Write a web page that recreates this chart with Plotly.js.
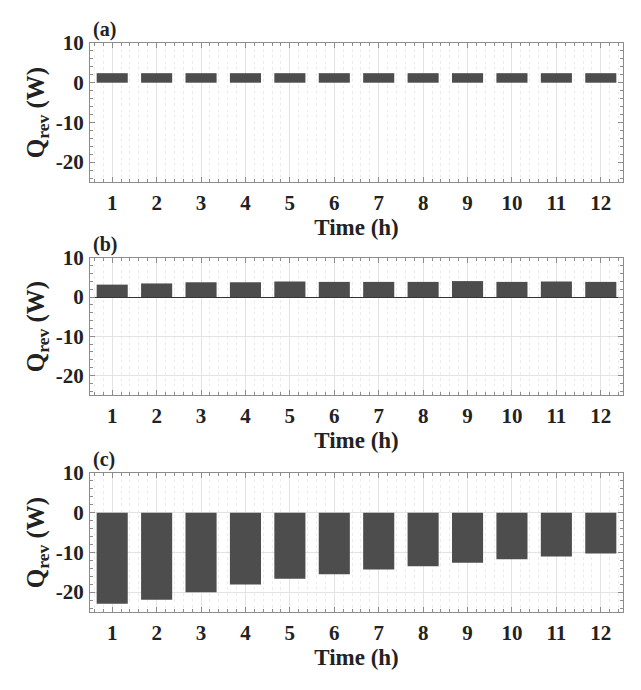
<!DOCTYPE html>
<html>
<head>
<meta charset="utf-8">
<script src="https://cdn.plot.ly/plotly-3.0.1.min.js"></script>
<style>
  html, body { margin: 0; padding: 0; background: #fff; }
  #chart { width: 641px; height: 690px; }
</style>
</head>
<body>
<div id="chart"></div>
<script>
// Q_rev per hour for the three cases
const hours = [1, 2, 3, 4, 5, 6, 7, 8, 9, 10, 11, 12];
const qrevA = [2.4, 2.4, 2.4, 2.4, 2.4, 2.4, 2.4, 2.4, 2.4, 2.4, 2.4, 2.4];
const qrevB = [3.2, 3.5, 3.8, 3.8, 4.0, 3.9, 3.9, 3.9, 4.1, 3.9, 4.0, 3.9];
const qrevC = [-22.9, -21.9, -20.0, -18.1, -16.6, -15.5, -14.3, -13.5, -12.6, -11.7, -11.0, -10.3];
const yTicks = [-20, -10, 0, 10];
const yTickText = ['-20', '-10', '0', '10'];
const panelLabels = ['(a)', '(b)', '(c)'];

const FONT = 'Liberation Serif, Times New Roman, serif';
const BAR_COLOR = '#4d4d4d';
const AXIS_COLOR = '#8c8c8c';
const GRID = '#e3e3e3';

// plot areas, pixel rows out of 690
const H = 690;
const domains = [[43, 182], [258, 395], [473, 612]].map(([t, b]) => [1 - b / H, 1 - t / H]);

function xAxis(anchor) {
  return {
    anchor: anchor,
    range: [0.5, 12.5],
    tickvals: hours,
    ticks: 'inside',
    ticklen: 5,
    tickcolor: AXIS_COLOR,
    showline: true,
    linecolor: AXIS_COLOR,
    linewidth: 1,
    mirror: 'allticks',
    showgrid: true,
    gridcolor: GRID,
    zeroline: false,
    tickfont: { family: FONT, size: 21, weight: 'bold', color: '#222' },
    ticklabelstandoff: 2,
    title: { text: 'Time (h)', font: { family: FONT, size: 23, weight: 'bold', color: '#222' }, standoff: 0 },
    minor: { dtick: 0.2, ticks: 'inside', ticklen: 3, tickcolor: AXIS_COLOR, showgrid: true, gridcolor: '#ececec', griddash: 'dot' },
  };
}

function yAxis(anchor, domain, grid, zero) {
  return {
    anchor: anchor,
    domain: domain,
    range: [-25, 10],
    tickvals: yTicks,
    ticktext: yTickText,
    ticks: 'inside',
    ticklen: 5,
    tickcolor: AXIS_COLOR,
    showline: true,
    linecolor: AXIS_COLOR,
    linewidth: 1,
    mirror: 'allticks',
    showgrid: grid,
    gridcolor: GRID,
    zeroline: zero,
    zerolinecolor: '#333',
    zerolinewidth: 1,
    tickfont: { family: FONT, size: 21, weight: 'bold', color: '#222' },
    ticklabelstandoff: 1,
    title: { text: 'Q<sub>rev</sub> (W)', font: { family: FONT, size: 25, weight: 'bold', color: '#222' }, standoff: 4 },
    minor: { dtick: 2, ticks: 'inside', ticklen: 3, tickcolor: AXIS_COLOR, showgrid: false },
  };
}

const series = [qrevA, qrevB, qrevC];
const traces = series.map((vals, i) => ({
  type: 'bar',
  x: hours,
  y: vals,
  xaxis: i === 0 ? 'x' : 'x' + (i + 1),
  yaxis: i === 0 ? 'y' : 'y' + (i + 1),
  marker: { color: BAR_COLOR, line: { width: 0 } },
  hoverinfo: 'x+y',
}));

const layout = {
  width: 641,
  height: 690,
  paper_bgcolor: '#fff',
  plot_bgcolor: '#fff',
  showlegend: false,
  bargap: 0.3,
  margin: { l: 90, r: 18, t: 0, b: 0 },
  font: { family: FONT, color: '#222' },
  xaxis: xAxis('y'),
  xaxis2: xAxis('y2'),
  xaxis3: xAxis('y3'),
  yaxis: yAxis('x', domains[0], false, false),
  yaxis2: yAxis('x2', domains[1], true, true),
  yaxis3: yAxis('x3', domains[2], true, false),
  annotations: panelLabels.map((t, i) => ({
    text: t,
    xref: 'paper', yref: 'paper',
    x: 0, y: domains[i][1],
    xanchor: 'left', yanchor: 'bottom',
    xshift: 1, yshift: 0,
    showarrow: false,
    font: { family: FONT, size: 20, weight: 'bold', color: '#222' },
  })),
};

Plotly.newPlot('chart', traces, layout, { displayModeBar: false, responsive: false });
</script>
</body>
</html>
